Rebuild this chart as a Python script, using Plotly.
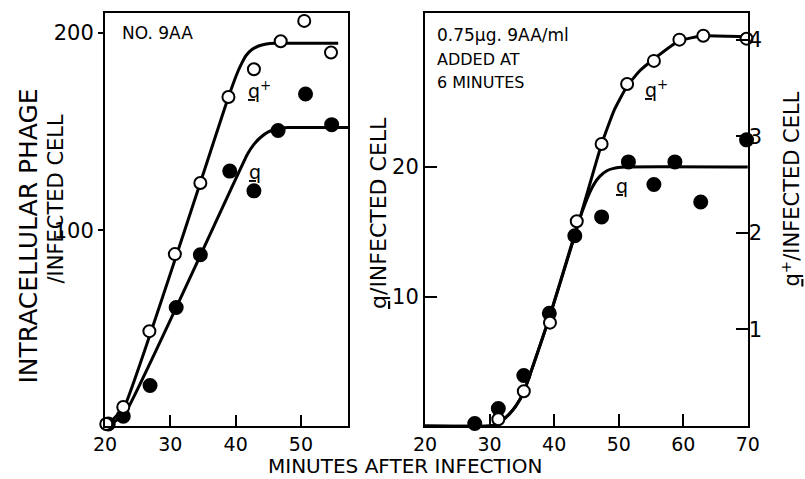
import plotly.graph_objects as go

# ---------------- data ----------------
# Left panel: NO. 9AA
L_open_x = [20.2, 22.8, 26.8, 30.7, 34.6, 38.9, 42.8, 46.9, 50.5, 54.6]
L_open_y = [2, 10.6, 49, 88, 124, 167.5, 181.5, 195.7, 206, 190]
L_fill_x = [20.5, 22.8, 26.9, 30.9, 34.6, 39.1, 42.8, 46.5, 50.7, 54.7]
L_fill_y = [2, 6, 21.5, 61, 87.7, 130, 120, 150.5, 169, 153.5]
L_open_curve_x = [20.4, 23.0, 38.9, 40.3, 41.0, 41.6, 42.5, 43.5, 44.7, 46.0, 55.7]
L_open_curve_y = [1.5, 11, 167.5, 180, 185, 188.5, 191.5, 193.3, 194.3, 194.7, 194.7]
L_fill_curve_x = [20.6, 23.0, 41.8, 42.8, 43.8, 45.0, 46.3, 48.0, 57.2]
L_fill_curve_y = [1.5, 7, 138.5, 143.5, 147, 149.8, 151.3, 152, 152]

# Right panel: 0.75 ug 9AA/ml added at 6 minutes
R_open_x = [31.35, 35.3, 39.35, 43.5, 47.35, 51.3, 55.45, 59.4, 63.1, 69.8]
R_open_y = [0.07, 0.36, 1.07, 2.12, 2.92, 3.54, 3.78, 4.0, 4.04, 4.01]      # right axis
R_fill_x = [27.7, 31.35, 35.3, 39.25, 43.2, 47.35, 51.5, 55.45, 58.7, 62.7, 69.8]
R_fill_y = [0.2, 1.35, 3.9, 8.7, 14.7, 16.15, 20.4, 18.65, 20.4, 17.3, 22.1]  # left axis
R_open_curve_x = [20, 30.0, 31.0, 32.0, 33.0, 34.0, 35.3, 39.3, 43.5, 47.35, 49.3, 51.3, 53.3, 55.45, 59.4, 63.1, 69.8]
R_open_curve_y = [0, 0, 0.02, 0.06, 0.12, 0.2, 0.354, 1.13, 2.04, 2.92, 3.27, 3.52, 3.68, 3.8, 3.99, 4.04, 4.03]
R_fill_curve_x = [20, 30.0, 31.0, 32.0, 33.0, 34.0, 35.3, 39.3, 43.3, 44.3, 45.3, 46.2, 47.1, 48.1, 49.2, 51.0, 70]
R_fill_curve_y = [0, 0, 0.15, 0.45, 0.9, 1.5, 2.64, 8.46, 15.0, 16.5, 17.8, 18.7, 19.3, 19.7, 19.9, 20.0, 20.0]

L_xticks = [20, 30, 40, 50]
L_yticks = [100, 200]
R_xticks = [20, 30, 40, 50, 60, 70]
R_yticks_left = [10, 20]
R_yticks_right = [1, 2, 3, 4]

FONT = "DejaVu Sans"
BLACK = "black"

fig = go.Figure()

def curve(x, y, xa, ya):
    fig.add_trace(go.Scatter(x=x, y=y, mode="lines", xaxis=xa, yaxis=ya,
                             line=dict(color=BLACK, width=3, shape="spline", smoothing=0.35),
                             showlegend=False, hoverinfo="skip", cliponaxis=False))

def pts(x, y, xa, ya, filled):
    fig.add_trace(go.Scatter(x=x, y=y, mode="markers", xaxis=xa, yaxis=ya,
                             marker=dict(size=13 if filled else 12, symbol="circle",
                                         color=BLACK if filled else "white",
                                         line=dict(color=BLACK, width=2)),
                             showlegend=False, cliponaxis=False))

# left panel
curve(L_open_curve_x, L_open_curve_y, "x", "y")
curve(L_fill_curve_x, L_fill_curve_y, "x", "y")
pts(L_fill_x, L_fill_y, "x", "y", True)
pts(L_open_x, L_open_y, "x", "y", False)

# right panel
curve(R_fill_curve_x, R_fill_curve_y, "x2", "y2")
curve(R_open_curve_x, R_open_curve_y, "x2", "y3")
pts(R_fill_x, R_fill_y, "x2", "y2", True)
pts(R_open_x, R_open_y, "x2", "y3", False)

tickfont = dict(family=FONT, size=21, color=BLACK)
xtickfont = dict(family=FONT, size=19, color=BLACK)
axis_common = dict(showgrid=False, zeroline=False, showline=True, linecolor=BLACK,
                   linewidth=2, tickcolor=BLACK, tickwidth=2,
                   automargin=False)

YDOM = [0.1106, 0.9729]
fig.update_layout(
    width=805, height=479, autosize=False,
    margin=dict(l=0, r=0, t=0, b=0),
    paper_bgcolor="white", plot_bgcolor="white",
    xaxis=dict(domain=[0.1304, 0.4323], range=[20, 57.2], anchor="y", tickfont=xtickfont,
               tickvals=L_xticks, ticks="inside", ticklen=11, mirror=True, **axis_common),
    yaxis=dict(domain=YDOM, range=[1, 210], anchor="x", tickfont=tickfont,
               tickvals=L_yticks, ticks="outside", ticklen=5, mirror=True, **axis_common),
    xaxis2=dict(domain=[0.528, 0.929], range=[20, 70], anchor="y2", tickfont=xtickfont,
                tickvals=R_xticks, ticks="inside", ticklen=12, mirror=True, **axis_common),
    yaxis2=dict(domain=YDOM, range=[0, 31.9], anchor="x2", tickfont=tickfont,
                tickvals=R_yticks_left, ticks="inside", ticklen=12, mirror=True, **axis_common),
    yaxis3=dict(range=[0, 4.276], anchor="x2", overlaying="y2", side="right", tickfont=tickfont,
                tickvals=R_yticks_right, ticks="inside", ticklen=12,
                **{k: v for k, v in axis_common.items() if k != "showline"}, showline=False),
)

def ann(text, x, y, size, angle=0, xanchor="center", yanchor="middle", xref="paper", yref="paper", align="center"):
    fig.add_annotation(text=text, x=x, y=y, xref=xref, yref=yref, showarrow=False,
                       textangle=angle, xanchor=xanchor, yanchor=yanchor, align=align,
                       borderpad=0,
                       font=dict(family=FONT, size=size, color=BLACK))

W, H = 805.0, 479.0
# axis titles
ann("INTRACELLULAR PHAGE", 28 / W, 1 - 236.5 / H, 25, -90)
ann("/INFECTED CELL", 55 / W, 1 - 198.5 / H, 21, -90)
ann("<u>q</u>/INFECTED CELL", 378 / W, 1 - 213 / H, 22, -90)
ann("<u>q</u><sup>+</sup>/INFECTED CELL", 791 / W, 1 - 189.5 / H, 21, -90)
ann("MINUTES AFTER INFECTION", 405 / W, 0.0, 20, yanchor="bottom")

# panel notes
ann("NO. 9AA", 121 / W, 1 - 33 / H, 17, xanchor="left")
ann("0.75μg. 9AA/ml", 436 / W, 1 - 35 / H, 17, xanchor="left")
ann("ADDED AT", 436 / W, 1 - 59 / H, 16, xanchor="left")
ann("6 MINUTES", 436 / W, 1 - 83 / H, 16, xanchor="left")

# curve labels
ann("<u>q</u><sup>+</sup>", 43.6, 171, 19, xref="x", yref="y")
ann("<u>q</u>", 42.9, 129.4, 19, xref="x", yref="y")
ann("<u>q</u><sup>+</sup>", 55.8, 26.0, 19, xref="x2", yref="y2")
ann("<u>q</u>", 50.5, 18.5, 19, xref="x2", yref="y2")

fig.write_html("out.html")
